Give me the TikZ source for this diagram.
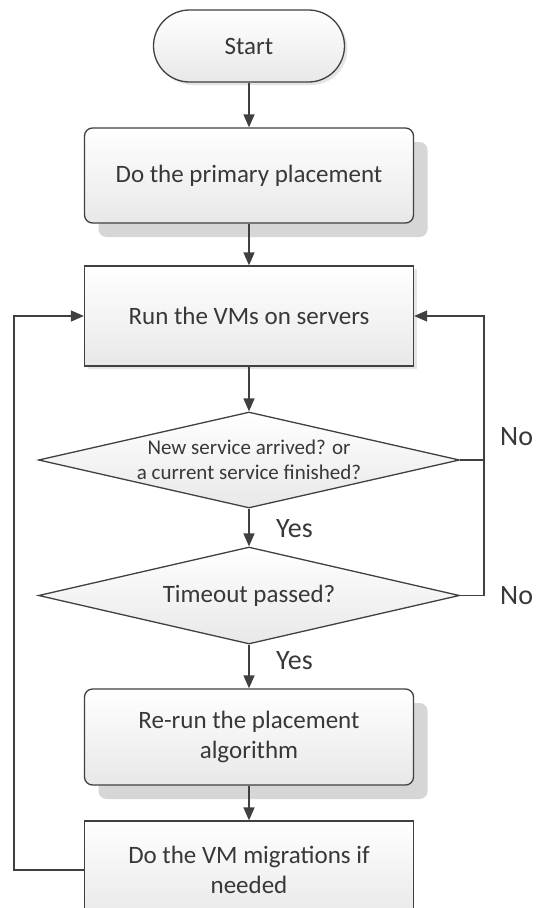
\documentclass[tikz,border=0pt]{standalone}
\usepackage{fontspec}
\setmainfont{Carlito}
\usetikzlibrary{arrows.meta,shapes.geometric,shadows}

\definecolor{ink}{HTML}{404040}
\definecolor{txt}{HTML}{383838}

\tikzset{
  base/.style={draw=ink, line width=1.3pt, top color=white, bottom color=black!9,
    text=txt, align=center, inner sep=0pt},
  bigshadow/.style={drop shadow={shadow xshift=14pt, shadow yshift=-14pt,
    fill=black!16, opacity=1}},
  smallshadow/.style={drop shadow={shadow xshift=3pt, shadow yshift=-3pt,
    fill=black!10, opacity=1}},
  terminal/.style={base, smallshadow, rounded corners=36pt, minimum width=191pt,
    minimum height=72pt, font=\fontsize{25}{30}\selectfont},
  proc/.style={base, minimum width=329pt, font=\fontsize{25}{30}\selectfont},
  roundproc/.style={proc, bigshadow, rounded corners=8pt},
  decision/.style={base, diamond, aspect=4.39, minimum width=421pt, minimum height=96pt},
  dtext/.style={text=txt, align=center, inner sep=0pt, font=\fontsize{21}{25.5}\selectfont},
  dtextbig/.style={dtext, font=\fontsize{25}{30}\selectfont},
  lbl/.style={text=txt, anchor=west, inner sep=0pt, font=\fontsize{28}{32}\selectfont},
  conn/.style={draw=ink, line width=1.4pt},
  flow/.style={conn, -{Triangle[length=13pt,width=11pt]}}
}

\begin{document}
\begin{tikzpicture}[x=1pt,y=-1pt]
\useasboundingbox (0,0) rectangle (537,908);
\clip (0,0) rectangle (537,908);

% boxes of the flow chart, top to bottom
\node[terminal] (start) at (249,46) {Start};
\node[roundproc, minimum height=95pt] (prim) at (249,175.5) {Do the primary placement};
\node[proc, smallshadow, minimum height=100pt] (run) at (249,316) {Run the VMs on servers};
\node[decision] (d1) at (249,460) {};
\node[dtext] (d1t) at (d1) {New service arrived? or\\a current service finished?};
\node[decision, minimum height=97pt] (d2) at (249,595.5) {};
\node[dtextbig] (d2t) at (d2) {Timeout passed?};
\node[roundproc, minimum height=96pt] (rerun) at (249,737) {Re-run the placement\\algorithm};
\node[proc, minimum height=98pt] (mig) at (249,870) {Do the VM migrations if\\needed};

% main vertical flow
\draw[flow] (start) -- (prim);
\draw[flow] (prim) -- (run);
\draw[flow] (run) -- (d1);
\draw[flow] (d1) -- (d2);
\draw[flow] (d2) -- (rerun);
\draw[flow] (rerun) -- (mig);

% return paths
\coordinate (lx) at (14,0);
\coordinate (rx) at (484,0);
\draw[flow] (mig.west) -- (mig.west -| lx) |- (run.west);
\draw[flow] (d1.east) -- (d1.east -| rx) |- (run.east);
\draw[conn] (d2.east) -- (d2.east -| rx) -- (d1.east -| rx);

% branch labels
\node[lbl] (no1) at (500,437) {No};
\node[lbl] (no2) at (500,595.5) {No};
\node[lbl] (yes1) at (276,529) {Yes};
\node[lbl] (yes2) at (276,661) {Yes};
\end{tikzpicture}
\end{document}
